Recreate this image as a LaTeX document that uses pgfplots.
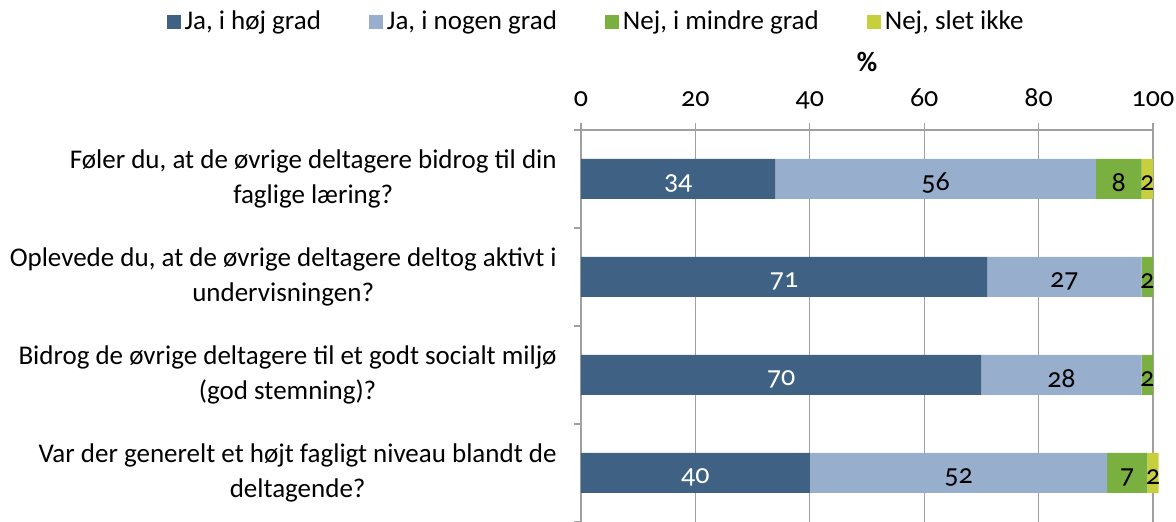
\documentclass[border=0pt]{standalone}
\usepackage{pgfplots}
\pgfplotsset{compat=1.18}
\usepackage{fontspec}
\setmainfont{Carlito}[Numbers=OldStyle]
\definecolor{cdark}{HTML}{3F6184}
\definecolor{clight}{HTML}{97AECC}
\definecolor{cgreen}{HTML}{7AB03F}
\definecolor{cyellow}{HTML}{C8CF3C}
\definecolor{cgrid}{HTML}{A0A0A0}
\begin{document}
\fontsize{13.5}{17.5}\selectfont
\begin{tikzpicture}
\begin{axis}[
  at={(0,0)}, anchor=south west,
  scale only axis, width=286pt, height=196pt,
  xbar stacked, bar width=20pt,
  xmin=0, xmax=100, ymin=-0.5, ymax=3.5,
  y dir=reverse,
  clip=false,
  axis x line*=top, axis y line*=left,
  axis line style={cgrid, line width=0.6pt},
  xtick={0,20,...,100},
  xmajorgrids, grid style={cgrid, line width=0.6pt},
  tick align=outside, major tick length=3.5pt,
  tick style={cgrid, line width=0.6pt},
  /pgf/number format/assume math mode=true,
  xticklabel style={font=\fontsize{14}{15}\selectfont, anchor=base, yshift=8pt},
  ytick={-0.5,0.5,1.5,2.5,3.5}, yticklabels={},
  extra y ticks={0,1,2,3},
  extra y tick style={major tick length=0pt, tick style={draw=none}},
  extra y tick labels={{Føler du, at de øvrige deltagere bidrog til din\\faglige læring?},
    {Oplevede du, at de øvrige deltagere deltog aktivt i\\undervisningen?},
    {Bidrog de øvrige deltagere til et godt socialt miljø\\(god stemning)?},
    {Var der generelt et højt fagligt niveau blandt de\\deltagende?}},
  yticklabel style={align=center, anchor=east, inner sep=0pt, xshift=-12pt,
    font=\fontsize{13.5}{17.5}\selectfont},
  xlabel={\textbf{\%}},
  xlabel style={at={(axis description cs:0.5,1)}, anchor=center, yshift=34pt,
    font=\fontsize{14}{15}\selectfont},
  legend style={at={(axis description cs:0.028,1.2755)}, anchor=center,
    draw=none, fill=none, legend columns=4,
    /tikz/every even column/.append style={column sep=22pt},
    font=\fontsize{13.5}{15}\selectfont, inner sep=0pt},
  legend image code/.code={\fill[#1] (0pt,-3.5pt) rectangle (7pt,3.5pt);},
  legend cell align=left,
  visualization depends on={rawx \as \rawx},
  nodes near coords={\ifdim\rawx pt>0pt\relax\pgfmathprintnumber{\rawx}\fi},
  every node near coord/.append style={anchor=center, yshift=-2pt,
    font=\fontsize{14}{15}\selectfont},
]
\addplot[fill=cdark, draw=none, every node near coord/.append style={text=white}]
  coordinates {(34,0) (71,1) (70,2) (40,3)};
\addplot[fill=clight, draw=none] coordinates {(56,0) (27,1) (28,2) (52,3)};
\addplot[fill=cgreen, draw=none] coordinates {(8,0) (2,1) (2,2) (7,3)};
\addplot[fill=cyellow, draw=none] coordinates {(2,0) (0,1) (0,2) (2,3)};
\legend{{Ja, i høj grad}, {Ja, i nogen grad}, {Nej, i mindre grad}, {Nej, slet ikke}}
\end{axis}
\pgfresetboundingbox
\path[use as bounding box] (-290.5pt,0) rectangle (297.5pt,261pt);
\end{tikzpicture}
\end{document}
